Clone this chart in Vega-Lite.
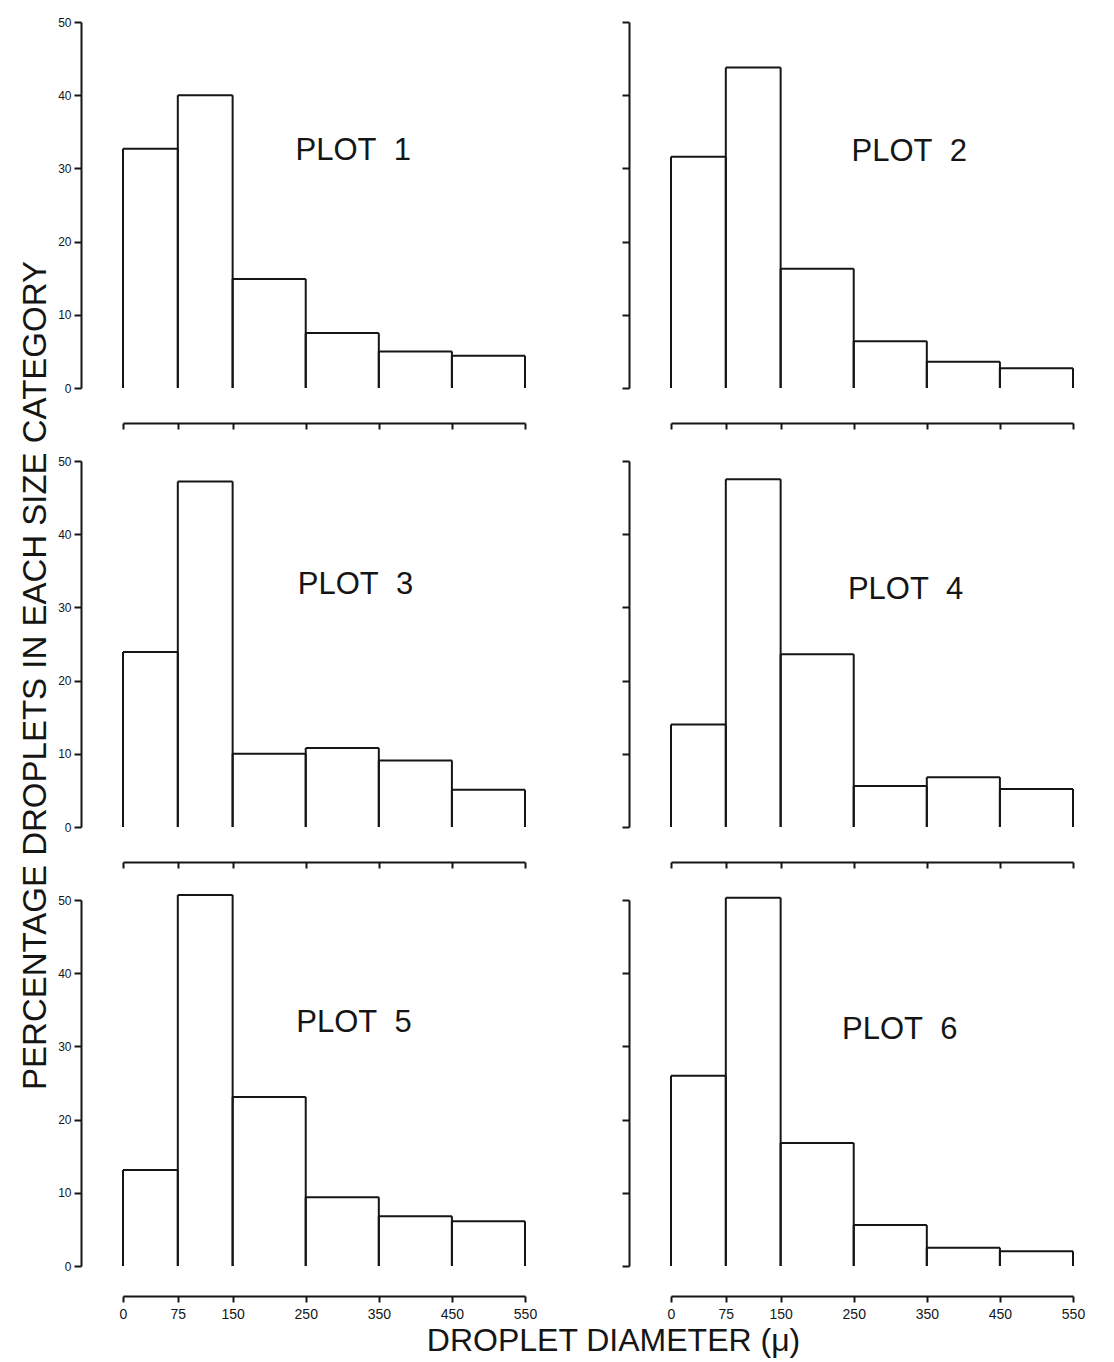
{
  "$schema": "https://vega.github.io/schema/vega-lite/v6.json",
  "background": "white",
  "padding": {"left": 18, "top": 16, "right": 5, "bottom": 5},
  "config": {
    "view": {"stroke": null},
    "axis": {"domainColor": "#151515", "tickColor": "#151515", "labelColor": "#151515", "titleColor": "#151515", "domainWidth": 2, "tickWidth": 2, "grid": false, "labelFont": "Liberation Sans", "titleFont": "Liberation Sans", "titleFontWeight": "normal"}
  },
  "datasets": {
    "hist": [
      {"plot": 1, "lo": 0, "hi": 75, "pct": 32.7}, {"plot": 1, "lo": 75, "hi": 150, "pct": 40.0}, {"plot": 1, "lo": 150, "hi": 250, "pct": 14.9}, {"plot": 1, "lo": 250, "hi": 350, "pct": 7.5}, {"plot": 1, "lo": 350, "hi": 450, "pct": 5.0}, {"plot": 1, "lo": 450, "hi": 550, "pct": 4.4},
      {"plot": 2, "lo": 0, "hi": 75, "pct": 31.6}, {"plot": 2, "lo": 75, "hi": 150, "pct": 43.8}, {"plot": 2, "lo": 150, "hi": 250, "pct": 16.3}, {"plot": 2, "lo": 250, "hi": 350, "pct": 6.4}, {"plot": 2, "lo": 350, "hi": 450, "pct": 3.6}, {"plot": 2, "lo": 450, "hi": 550, "pct": 2.7},
      {"plot": 3, "lo": 0, "hi": 75, "pct": 23.9}, {"plot": 3, "lo": 75, "hi": 150, "pct": 47.2}, {"plot": 3, "lo": 150, "hi": 250, "pct": 10.0}, {"plot": 3, "lo": 250, "hi": 350, "pct": 10.8}, {"plot": 3, "lo": 350, "hi": 450, "pct": 9.1}, {"plot": 3, "lo": 450, "hi": 550, "pct": 5.1},
      {"plot": 4, "lo": 0, "hi": 75, "pct": 14.0}, {"plot": 4, "lo": 75, "hi": 150, "pct": 47.5}, {"plot": 4, "lo": 150, "hi": 250, "pct": 23.6}, {"plot": 4, "lo": 250, "hi": 350, "pct": 5.6}, {"plot": 4, "lo": 350, "hi": 450, "pct": 6.8}, {"plot": 4, "lo": 450, "hi": 550, "pct": 5.2},
      {"plot": 5, "lo": 0, "hi": 75, "pct": 13.1}, {"plot": 5, "lo": 75, "hi": 150, "pct": 50.7}, {"plot": 5, "lo": 150, "hi": 250, "pct": 23.1}, {"plot": 5, "lo": 250, "hi": 350, "pct": 9.4}, {"plot": 5, "lo": 350, "hi": 450, "pct": 6.8}, {"plot": 5, "lo": 450, "hi": 550, "pct": 6.1},
      {"plot": 6, "lo": 0, "hi": 75, "pct": 26.0}, {"plot": 6, "lo": 75, "hi": 150, "pct": 50.3}, {"plot": 6, "lo": 150, "hi": 250, "pct": 16.8}, {"plot": 6, "lo": 250, "hi": 350, "pct": 5.6}, {"plot": 6, "lo": 350, "hi": 450, "pct": 2.5}, {"plot": 6, "lo": 450, "hi": 550, "pct": 2.0}
    ]
  },
  "data": {"name": "hist"},
  "columns": 2,
  "bounds": "flush",
  "spacing": {"row": 73, "column": 146},
  "concat": [
    {
      "width": 402, "height": 366,
      "transform": [{"filter": "datum.plot === 1"}],
      "layer": [
        {"mark": {"type": "rule", "color": "#151515", "strokeWidth": 2},
         "encoding": {
           "x": {"field": "lo", "type": "quantitative", "scale": {"domain": [0, 550], "nice": false, "zero": false}, "axis": {"title": null, "values": [0, 75, 150, 250, 350, 450, 550], "offset": 35, "tickSize": 6, "labels": false}},
           "x2": {"field": "hi"},
           "y": {"field": "pct", "type": "quantitative", "scale": {"domain": [0, 50], "nice": false}, "axis": {"title": null, "values": [0, 10, 20, 30, 40, 50], "offset": 42, "tickSize": 7, "labelFontSize": 12, "labelPadding": 3}}}},
        {"mark": {"type": "rule", "color": "#151515", "strokeWidth": 2},
         "encoding": {
           "x": {"field": "lo", "type": "quantitative", "axis": {"title": null, "values": [0, 75, 150, 250, 350, 450, 550], "offset": 35, "tickSize": 6, "labels": false}},
           "y": {"field": "pct", "type": "quantitative", "axis": {"title": null, "values": [0, 10, 20, 30, 40, 50], "offset": 42, "tickSize": 7, "labelFontSize": 12, "labelPadding": 3}},
           "y2": {"datum": 0}}},
        {"mark": {"type": "rule", "color": "#151515", "strokeWidth": 2},
         "encoding": {
           "x": {"field": "hi", "type": "quantitative", "axis": {"title": null, "values": [0, 75, 150, 250, 350, 450, 550], "offset": 35, "tickSize": 6, "labels": false}},
           "y": {"field": "pct", "type": "quantitative", "axis": {"title": null, "values": [0, 10, 20, 30, 40, 50], "offset": 42, "tickSize": 7, "labelFontSize": 12, "labelPadding": 3}},
           "y2": {"datum": 0}}},
        {"data": {"values": [{"label": "PLOT\u00a0 1", "lx": 315, "ly": 32.4}]},
         "mark": {"type": "text", "font": "Liberation Sans", "fontSize": 31, "color": "#151515"},
         "encoding": {
           "x": {"field": "lx", "type": "quantitative", "axis": {"title": null, "values": [0, 75, 150, 250, 350, 450, 550], "offset": 35, "tickSize": 6, "labels": false}},
           "y": {"field": "ly", "type": "quantitative", "axis": {"title": null, "values": [0, 10, 20, 30, 40, 50], "offset": 42, "tickSize": 7, "labelFontSize": 12, "labelPadding": 3}},
           "text": {"field": "label"}}}
      ]
    },
    {
      "width": 402, "height": 366,
      "transform": [{"filter": "datum.plot === 2"}],
      "layer": [
        {"mark": {"type": "rule", "color": "#151515", "strokeWidth": 2},
         "encoding": {
           "x": {"field": "lo", "type": "quantitative", "scale": {"domain": [0, 550], "nice": false, "zero": false}, "axis": {"title": null, "values": [0, 75, 150, 250, 350, 450, 550], "offset": 35, "tickSize": 6, "labels": false}},
           "x2": {"field": "hi"},
           "y": {"field": "pct", "type": "quantitative", "scale": {"domain": [0, 50], "nice": false}, "axis": {"title": null, "values": [0, 10, 20, 30, 40, 50], "offset": 42, "tickSize": 7, "labels": false}}}},
        {"mark": {"type": "rule", "color": "#151515", "strokeWidth": 2},
         "encoding": {
           "x": {"field": "lo", "type": "quantitative", "axis": {"title": null, "values": [0, 75, 150, 250, 350, 450, 550], "offset": 35, "tickSize": 6, "labels": false}},
           "y": {"field": "pct", "type": "quantitative", "axis": {"title": null, "values": [0, 10, 20, 30, 40, 50], "offset": 42, "tickSize": 7, "labels": false}},
           "y2": {"datum": 0}}},
        {"mark": {"type": "rule", "color": "#151515", "strokeWidth": 2},
         "encoding": {
           "x": {"field": "hi", "type": "quantitative", "axis": {"title": null, "values": [0, 75, 150, 250, 350, 450, 550], "offset": 35, "tickSize": 6, "labels": false}},
           "y": {"field": "pct", "type": "quantitative", "axis": {"title": null, "values": [0, 10, 20, 30, 40, 50], "offset": 42, "tickSize": 7, "labels": false}},
           "y2": {"datum": 0}}},
        {"data": {"values": [{"label": "PLOT\u00a0 2", "lx": 326, "ly": 32.3}]},
         "mark": {"type": "text", "font": "Liberation Sans", "fontSize": 31, "color": "#151515"},
         "encoding": {
           "x": {"field": "lx", "type": "quantitative", "axis": {"title": null, "values": [0, 75, 150, 250, 350, 450, 550], "offset": 35, "tickSize": 6, "labels": false}},
           "y": {"field": "ly", "type": "quantitative", "axis": {"title": null, "values": [0, 10, 20, 30, 40, 50], "offset": 42, "tickSize": 7, "labels": false}},
           "text": {"field": "label"}}}
      ]
    },
    {
      "width": 402, "height": 366,
      "transform": [{"filter": "datum.plot === 3"}],
      "layer": [
        {"mark": {"type": "rule", "color": "#151515", "strokeWidth": 2},
         "encoding": {
           "x": {"field": "lo", "type": "quantitative", "scale": {"domain": [0, 550], "nice": false, "zero": false}, "axis": {"title": null, "values": [0, 75, 150, 250, 350, 450, 550], "offset": 35, "tickSize": 6, "labels": false}},
           "x2": {"field": "hi"},
           "y": {"field": "pct", "type": "quantitative", "scale": {"domain": [0, 50], "nice": false}, "axis": {"title": "PERCENTAGE DROPLETS IN EACH SIZE CATEGORY", "titleFontSize": 33, "titleX": -29, "titleY": 214, "values": [0, 10, 20, 30, 40, 50], "offset": 42, "tickSize": 7, "labelFontSize": 12, "labelPadding": 3}}}},
        {"mark": {"type": "rule", "color": "#151515", "strokeWidth": 2},
         "encoding": {
           "x": {"field": "lo", "type": "quantitative", "axis": {"title": null, "values": [0, 75, 150, 250, 350, 450, 550], "offset": 35, "tickSize": 6, "labels": false}},
           "y": {"field": "pct", "type": "quantitative", "axis": {"title": "PERCENTAGE DROPLETS IN EACH SIZE CATEGORY", "titleFontSize": 33, "titleX": -29, "titleY": 214, "values": [0, 10, 20, 30, 40, 50], "offset": 42, "tickSize": 7, "labelFontSize": 12, "labelPadding": 3}},
           "y2": {"datum": 0}}},
        {"mark": {"type": "rule", "color": "#151515", "strokeWidth": 2},
         "encoding": {
           "x": {"field": "hi", "type": "quantitative", "axis": {"title": null, "values": [0, 75, 150, 250, 350, 450, 550], "offset": 35, "tickSize": 6, "labels": false}},
           "y": {"field": "pct", "type": "quantitative", "axis": {"title": "PERCENTAGE DROPLETS IN EACH SIZE CATEGORY", "titleFontSize": 33, "titleX": -29, "titleY": 214, "values": [0, 10, 20, 30, 40, 50], "offset": 42, "tickSize": 7, "labelFontSize": 12, "labelPadding": 3}},
           "y2": {"datum": 0}}},
        {"data": {"values": [{"label": "PLOT\u00a0 3", "lx": 318, "ly": 33}]},
         "mark": {"type": "text", "font": "Liberation Sans", "fontSize": 31, "color": "#151515"},
         "encoding": {
           "x": {"field": "lx", "type": "quantitative", "axis": {"title": null, "values": [0, 75, 150, 250, 350, 450, 550], "offset": 35, "tickSize": 6, "labels": false}},
           "y": {"field": "ly", "type": "quantitative", "axis": {"title": "PERCENTAGE DROPLETS IN EACH SIZE CATEGORY", "titleFontSize": 33, "titleX": -29, "titleY": 214, "values": [0, 10, 20, 30, 40, 50], "offset": 42, "tickSize": 7, "labelFontSize": 12, "labelPadding": 3}},
           "text": {"field": "label"}}}
      ]
    },
    {
      "width": 402, "height": 366,
      "transform": [{"filter": "datum.plot === 4"}],
      "layer": [
        {"mark": {"type": "rule", "color": "#151515", "strokeWidth": 2},
         "encoding": {
           "x": {"field": "lo", "type": "quantitative", "scale": {"domain": [0, 550], "nice": false, "zero": false}, "axis": {"title": null, "values": [0, 75, 150, 250, 350, 450, 550], "offset": 35, "tickSize": 6, "labels": false}},
           "x2": {"field": "hi"},
           "y": {"field": "pct", "type": "quantitative", "scale": {"domain": [0, 50], "nice": false}, "axis": {"title": null, "values": [0, 10, 20, 30, 40, 50], "offset": 42, "tickSize": 7, "labels": false}}}},
        {"mark": {"type": "rule", "color": "#151515", "strokeWidth": 2},
         "encoding": {
           "x": {"field": "lo", "type": "quantitative", "axis": {"title": null, "values": [0, 75, 150, 250, 350, 450, 550], "offset": 35, "tickSize": 6, "labels": false}},
           "y": {"field": "pct", "type": "quantitative", "axis": {"title": null, "values": [0, 10, 20, 30, 40, 50], "offset": 42, "tickSize": 7, "labels": false}},
           "y2": {"datum": 0}}},
        {"mark": {"type": "rule", "color": "#151515", "strokeWidth": 2},
         "encoding": {
           "x": {"field": "hi", "type": "quantitative", "axis": {"title": null, "values": [0, 75, 150, 250, 350, 450, 550], "offset": 35, "tickSize": 6, "labels": false}},
           "y": {"field": "pct", "type": "quantitative", "axis": {"title": null, "values": [0, 10, 20, 30, 40, 50], "offset": 42, "tickSize": 7, "labels": false}},
           "y2": {"datum": 0}}},
        {"data": {"values": [{"label": "PLOT\u00a0 4", "lx": 321, "ly": 32.4}]},
         "mark": {"type": "text", "font": "Liberation Sans", "fontSize": 31, "color": "#151515"},
         "encoding": {
           "x": {"field": "lx", "type": "quantitative", "axis": {"title": null, "values": [0, 75, 150, 250, 350, 450, 550], "offset": 35, "tickSize": 6, "labels": false}},
           "y": {"field": "ly", "type": "quantitative", "axis": {"title": null, "values": [0, 10, 20, 30, 40, 50], "offset": 42, "tickSize": 7, "labels": false}},
           "text": {"field": "label"}}}
      ]
    },
    {
      "width": 402, "height": 366,
      "transform": [{"filter": "datum.plot === 5"}],
      "layer": [
        {"mark": {"type": "rule", "color": "#151515", "strokeWidth": 2},
         "encoding": {
           "x": {"field": "lo", "type": "quantitative", "scale": {"domain": [0, 550], "nice": false, "zero": false}, "axis": {"title": "DROPLET DIAMETER (μ)", "titleFontSize": 32, "titleX": 490, "values": [0, 75, 150, 250, 350, 450, 550], "offset": 30, "tickSize": 6, "labelFontSize": 14, "labelPadding": 5, "labelFlush": false}},
           "x2": {"field": "hi"},
           "y": {"field": "pct", "type": "quantitative", "scale": {"domain": [0, 50], "nice": false}, "axis": {"title": null, "values": [0, 10, 20, 30, 40, 50], "offset": 42, "tickSize": 7, "labelFontSize": 12, "labelPadding": 3}}}},
        {"mark": {"type": "rule", "color": "#151515", "strokeWidth": 2},
         "encoding": {
           "x": {"field": "lo", "type": "quantitative", "axis": {"title": "DROPLET DIAMETER (μ)", "titleFontSize": 32, "titleX": 490, "values": [0, 75, 150, 250, 350, 450, 550], "offset": 30, "tickSize": 6, "labelFontSize": 14, "labelPadding": 5, "labelFlush": false}},
           "y": {"field": "pct", "type": "quantitative", "axis": {"title": null, "values": [0, 10, 20, 30, 40, 50], "offset": 42, "tickSize": 7, "labelFontSize": 12, "labelPadding": 3}},
           "y2": {"datum": 0}}},
        {"mark": {"type": "rule", "color": "#151515", "strokeWidth": 2},
         "encoding": {
           "x": {"field": "hi", "type": "quantitative", "axis": {"title": "DROPLET DIAMETER (μ)", "titleFontSize": 32, "titleX": 490, "values": [0, 75, 150, 250, 350, 450, 550], "offset": 30, "tickSize": 6, "labelFontSize": 14, "labelPadding": 5, "labelFlush": false}},
           "y": {"field": "pct", "type": "quantitative", "axis": {"title": null, "values": [0, 10, 20, 30, 40, 50], "offset": 42, "tickSize": 7, "labelFontSize": 12, "labelPadding": 3}},
           "y2": {"datum": 0}}},
        {"data": {"values": [{"label": "PLOT\u00a0 5", "lx": 316, "ly": 33.2}]},
         "mark": {"type": "text", "font": "Liberation Sans", "fontSize": 31, "color": "#151515"},
         "encoding": {
           "x": {"field": "lx", "type": "quantitative", "axis": {"title": "DROPLET DIAMETER (μ)", "titleFontSize": 32, "titleX": 490, "values": [0, 75, 150, 250, 350, 450, 550], "offset": 30, "tickSize": 6, "labelFontSize": 14, "labelPadding": 5, "labelFlush": false}},
           "y": {"field": "ly", "type": "quantitative", "axis": {"title": null, "values": [0, 10, 20, 30, 40, 50], "offset": 42, "tickSize": 7, "labelFontSize": 12, "labelPadding": 3}},
           "text": {"field": "label"}}}
      ]
    },
    {
      "width": 402, "height": 366,
      "transform": [{"filter": "datum.plot === 6"}],
      "layer": [
        {"mark": {"type": "rule", "color": "#151515", "strokeWidth": 2},
         "encoding": {
           "x": {"field": "lo", "type": "quantitative", "scale": {"domain": [0, 550], "nice": false, "zero": false}, "axis": {"title": null, "values": [0, 75, 150, 250, 350, 450, 550], "offset": 30, "tickSize": 6, "labelFontSize": 14, "labelPadding": 5, "labelFlush": false}},
           "x2": {"field": "hi"},
           "y": {"field": "pct", "type": "quantitative", "scale": {"domain": [0, 50], "nice": false}, "axis": {"title": null, "values": [0, 10, 20, 30, 40, 50], "offset": 42, "tickSize": 7, "labels": false}}}},
        {"mark": {"type": "rule", "color": "#151515", "strokeWidth": 2},
         "encoding": {
           "x": {"field": "lo", "type": "quantitative", "axis": {"title": null, "values": [0, 75, 150, 250, 350, 450, 550], "offset": 30, "tickSize": 6, "labelFontSize": 14, "labelPadding": 5, "labelFlush": false}},
           "y": {"field": "pct", "type": "quantitative", "axis": {"title": null, "values": [0, 10, 20, 30, 40, 50], "offset": 42, "tickSize": 7, "labels": false}},
           "y2": {"datum": 0}}},
        {"mark": {"type": "rule", "color": "#151515", "strokeWidth": 2},
         "encoding": {
           "x": {"field": "hi", "type": "quantitative", "axis": {"title": null, "values": [0, 75, 150, 250, 350, 450, 550], "offset": 30, "tickSize": 6, "labelFontSize": 14, "labelPadding": 5, "labelFlush": false}},
           "y": {"field": "pct", "type": "quantitative", "axis": {"title": null, "values": [0, 10, 20, 30, 40, 50], "offset": 42, "tickSize": 7, "labels": false}},
           "y2": {"datum": 0}}},
        {"data": {"values": [{"label": "PLOT\u00a0 6", "lx": 313, "ly": 32.3}]},
         "mark": {"type": "text", "font": "Liberation Sans", "fontSize": 31, "color": "#151515"},
         "encoding": {
           "x": {"field": "lx", "type": "quantitative", "axis": {"title": null, "values": [0, 75, 150, 250, 350, 450, 550], "offset": 30, "tickSize": 6, "labelFontSize": 14, "labelPadding": 5, "labelFlush": false}},
           "y": {"field": "ly", "type": "quantitative", "axis": {"title": null, "values": [0, 10, 20, 30, 40, 50], "offset": 42, "tickSize": 7, "labels": false}},
           "text": {"field": "label"}}}
      ]
    }
  ]
}
